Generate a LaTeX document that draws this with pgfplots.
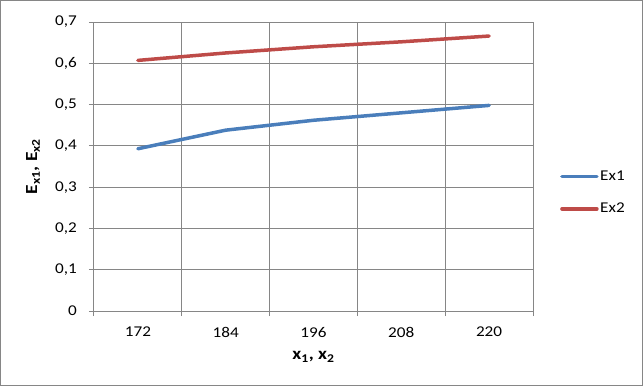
\documentclass[border=0pt]{standalone}
\usepackage{pgfplots}
\pgfplotsset{compat=1.18}
\usepackage{fontspec}
\setmainfont[FakeStretch=1.15]{Carlito}
\definecolor{exblue}{HTML}{4A7EBB}
\definecolor{exred}{HTML}{BE4B48}
\definecolor{gridgray}{HTML}{868686}
\begin{document}
\begin{tikzpicture}
\begin{axis}[
  at={(0,0)}, anchor=south west,
  scale only axis, width=439bp, height=289bp,
  xmin=-0.5, xmax=4.5, ymin=0, ymax=0.7,
  xtick={0,1,2,3,4}, xticklabels={172,184,196,208,220},
  minor xtick={-0.5,0.5,1.5,2.5,3.5,4.5},
  ytick={0,0.1,0.2,0.3,0.4,0.5,0.6,0.7},
  xminorgrids, ymajorgrids,
  major x tick style={draw=none},
  tick align=outside, major tick length=5bp, minor tick length=5bp,
  xtick pos=left, ytick pos=left,
  axis line style={gridgray, line width=1bp},
  every tick/.style={gridgray, line width=1bp},
  minor x tick style={gridgray, line width=1bp},
  grid style={gridgray, line width=1bp},
  minor grid style={gridgray, line width=1bp},
  /pgf/number format/.cd, fixed, precision=1, use comma, assume math mode=true,
  /pgfplots/.cd,
  tick label style={font=\fontsize{15}{17}\selectfont, inner sep=0pt},
  yticklabel style={anchor=east, xshift=-12bp},
  xticklabel style={anchor=north, yshift=-11bp},
  ylabel={\textbf{E\textsubscript{x1}, E\textsubscript{x2}}},
  xlabel={\textbf{x\textsubscript{1}, x\textsubscript{2}}},
  label style={font=\fontsize{17}{19}\selectfont},
  ylabel style={at={(axis description cs:-0.139,0.5)}, anchor=center},
  xlabel style={at={(axis description cs:0.5,-0.159)}, anchor=center},
  legend style={at={(axis description cs:1.0615,0.409)}, anchor=west, draw=none, fill=none,
    inner sep=0pt, row sep=18bp, font=\fontsize{15}{17}\selectfont,
    nodes={inner sep=1.5bp}},
  legend cell align=left,
  legend image code/.code={\draw[#1, line width=3.5bp, line cap=round] (0bp,0bp) -- (35bp,0bp);},
]
\addplot[exblue, line width=3.5bp, line cap=round, line join=round] coordinates {
  (0,0.393) (1,0.438) (2,0.462) (3,0.480) (4,0.498)};
\addlegendentry{Ex1}
\addplot[exred, line width=3.5bp, line cap=round, line join=round] coordinates {
  (0,0.607) (1,0.625) (2,0.640) (3,0.652) (4,0.666)};
\addlegendentry{Ex2}
\end{axis}
\draw[gridgray, line width=1bp] (-93.5bp,-74.5bp) rectangle (548.5bp,310.5bp);
\end{tikzpicture}
\end{document}
